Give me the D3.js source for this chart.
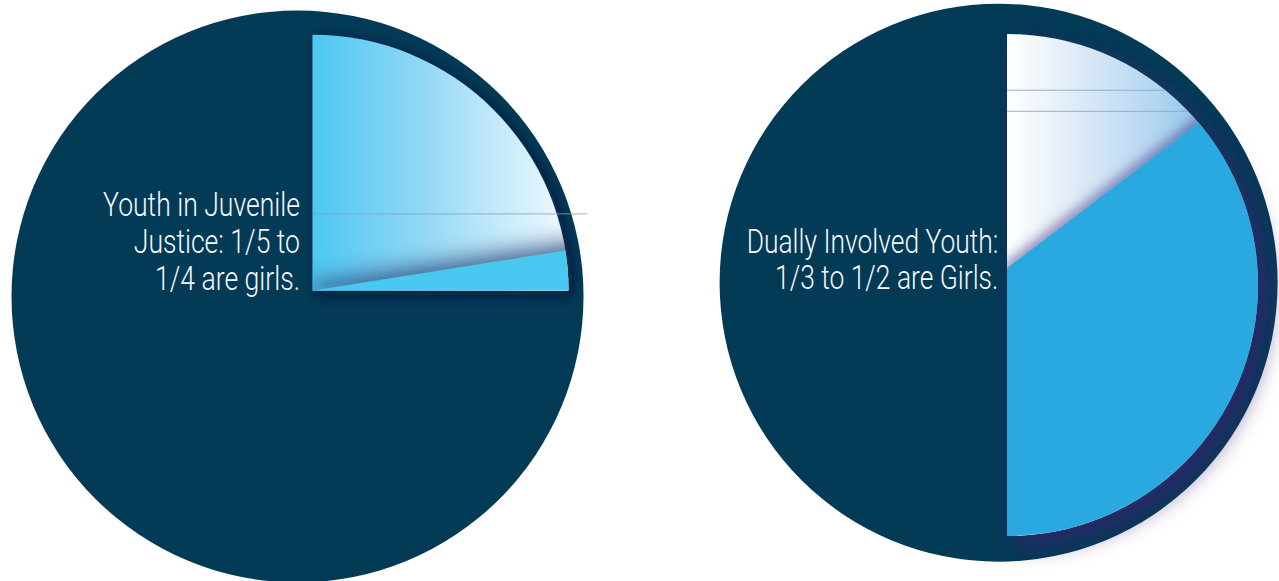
<!DOCTYPE html>
<html><head><meta charset="utf-8">
<script src="https://cdn.jsdelivr.net/npm/d3@7"></script>
<style>html,body{margin:0;padding:0;background:#fff;overflow:hidden}</style>
</head><body>
<svg id="c" width="1279" height="581"></svg>
<script>
// ---- data ----
const chartNames = ["Youth in Juvenile Justice", "Dually Involved Youth"];
const labelsLeft = ["Youth in Juvenile", "Justice: 1/5 to", "1/4 are girls."];
const labelsRight = ["Dually Involved Youth:", "1/3 to 1/2 are Girls."];
// shares of the full circle: [uncertain range (gradient), firm girls share (solid), rest]
const leftShares = [0.225, 0.025, 0.75];
const rightShares = [0.147, 0.353, 0.5];
// thin guide lines, as fraction of wedge radius above the wedge centre
const leftGuides = [0.30];
const rightGuides = [0.776, 0.692];

// ---- layout / style ----
const NAVY = "#033a56";
const pies = [
  {shares: leftShares, labels: labelsLeft, guides: leftGuides, guideToEdge: true,
   disc: {cx: 297.5, cy: 296.5, r: 286},
   wedge: {cx: 312.5, cy: 290.7, r: 256}, solidShift: 0,
   gradStops: [["0%", "#4cc7f3"], ["45%", "#95d9f6"], ["100%", "#f2faff"]],
   solidColor: "#48c8f2",
   wedgeShadow: {dx: 4, dy: 4, sd: 7, color: "#0a0a30", op: 0.75},
   edgeShadow: {dx: -2, dy: -4, sd: 5, color: "#2a4a78", op: 0.4},
   band: {w: 26, sd: 9, color: "#3d5f8e", op: 0.55},
   text: {x: 300, y: 216, w: 197}},
  {shares: rightShares, labels: labelsRight, guides: rightGuides, guideToEdge: false,
   disc: {cx: 998.6, cy: 282.7, r: 279},
   wedge: {cx: 1007, cy: 285, r: 251}, solidShift: -17,
   gradStops: [["0%", "#ffffff"], ["25%", "#e2edf8"], ["60%", "#b2d5f0"], ["100%", "#5db3e6"]],
   solidColor: "#2aa9e1",
   wedgeShadow: {dx: 10, dy: 10, sd: 11, color: "#34206e", op: 0.75},
   edgeShadow: {dx: -3, dy: -5, sd: 6, color: "#4a3c8c", op: 0.55},
   band: null,
   text: {x: 998.3, y: 252.7, w: 251.7}}
];
const LINE_H = 36.8;

const svg = d3.select("#c");
const defs = svg.append("defs");

pies.forEach((p, i) => {
  const arcs = d3.pie().sort(null).value(d => d)(p.shares);
  const rangeArc = arcs[0], solidArc = arcs[1];

  const gid = "grad" + i;
  const lg = defs.append("linearGradient").attr("id", gid)
    .attr("gradientUnits", "userSpaceOnUse")
    .attr("x1", 0).attr("y1", 0).attr("x2", p.wedge.r).attr("y2", 0);
  p.gradStops.forEach(s => lg.append("stop").attr("offset", s[0]).attr("stop-color", s[1]));

  const ws = defs.append("filter").attr("id", "ws" + i)
    .attr("x", "-30%").attr("y", "-30%").attr("width", "160%").attr("height", "160%");
  ws.append("feDropShadow").attr("dx", p.wedgeShadow.dx).attr("dy", p.wedgeShadow.dy)
    .attr("stdDeviation", p.wedgeShadow.sd)
    .attr("flood-color", p.wedgeShadow.color).attr("flood-opacity", p.wedgeShadow.op);

  const es = defs.append("filter").attr("id", "es" + i)
    .attr("x", "-30%").attr("y", "-30%").attr("width", "160%").attr("height", "160%");
  es.append("feDropShadow").attr("dx", p.edgeShadow.dx).attr("dy", p.edgeShadow.dy)
    .attr("stdDeviation", p.edgeShadow.sd)
    .attr("flood-color", p.edgeShadow.color).attr("flood-opacity", p.edgeShadow.op);

  if (p.band) {
    defs.append("filter").attr("id", "bb" + i)
      .attr("x", "-50%").attr("y", "-50%").attr("width", "200%").attr("height", "200%")
      .append("feGaussianBlur").attr("stdDeviation", p.band.sd);
  }

  const discArc = d3.arc().innerRadius(0).outerRadius(p.disc.r);
  const wedgeArc = d3.arc().innerRadius(0).outerRadius(p.wedge.r);
  const bigArc = d3.arc().innerRadius(0).outerRadius(p.wedge.r + 60);
  const fullCircle = {startAngle: 0, endAngle: 2 * Math.PI};
  const wedgeSpan = {startAngle: rangeArc.startAngle, endAngle: solidArc.endAngle};

  defs.append("clipPath").attr("id", "wedgeClip" + i)
    .append("path").attr("d", wedgeArc(wedgeSpan));

  const g = svg.append("g").attr("class", "pie").attr("data-name", chartNames[i]);

  // dark disc
  g.append("path").attr("transform", `translate(${p.disc.cx},${p.disc.cy})`)
    .attr("d", discArc(fullCircle)).attr("fill", NAVY);

  const wg = g.append("g").attr("transform", `translate(${p.wedge.cx},${p.wedge.cy})`);

  // wedge (range part, gradient) with its drop shadow
  wg.append("path").attr("d", wedgeArc(wedgeSpan))
    .attr("fill", `url(#${gid})`).attr("filter", `url(#ws${i})`);

  const inner = wg.append("g").attr("clip-path", `url(#wedgeClip${i})`)
    .append("g").attr("transform", `translate(0,${p.solidShift})`);

  // soft shading along the boundary between range and firm share
  if (p.band) {
    const a = solidArc.startAngle;
    const L = p.wedge.r + 40;
    inner.append("line")
      .attr("x1", 0).attr("y1", 0)
      .attr("x2", L * Math.sin(a)).attr("y2", -L * Math.cos(a))
      .attr("stroke", p.band.color).attr("stroke-width", p.band.w)
      .attr("opacity", p.band.op).attr("filter", `url(#bb${i})`);
  }

  // firm share (solid slice)
  inner.append("path").attr("d", bigArc(solidArc))
    .attr("fill", p.solidColor).attr("filter", `url(#es${i})`);

  // guide lines
  p.guides.forEach(f => {
    const yy = -f * p.wedge.r;
    const xEnd = p.guideToEdge
      ? (p.disc.cx + p.disc.r + 4 - p.wedge.cx)
      : Math.sqrt(p.wedge.r * p.wedge.r - yy * yy);
    wg.append("line").attr("x1", 0).attr("x2", xEnd).attr("y1", yy).attr("y2", yy)
      .attr("stroke", "#7fa3c2").attr("stroke-width", 1).attr("opacity", 0.8);
  });

  // label
  const tg = g.append("g");
  const texts = tg.selectAll("text").data(p.labels).join("text")
    .attr("x", 0).attr("y", (d, k) => k * LINE_H)
    .attr("text-anchor", "end")
    .attr("fill", "#f5f9fc")
    .style("font-family", "Roboto, 'Liberation Sans', sans-serif")
    .style("font-weight", 300)
    .style("font-size", "33px")
    .text(d => d);
  const len = texts.node().getComputedTextLength();
  const s = p.text.w / len;
  tg.attr("transform", `translate(${p.text.x},${p.text.y}) scale(${s},1)`);
});
</script>
</body></html>
